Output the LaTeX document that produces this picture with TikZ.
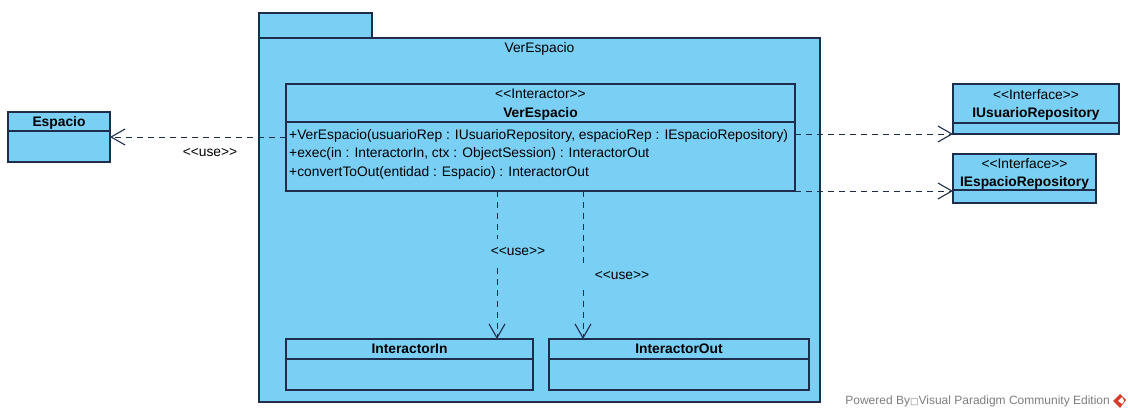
\documentclass[tikz,border=0pt]{standalone}
\usepackage{fontspec}
\setmainfont{Liberation Sans}[Ligatures=TeXOff]
\newfontfamily\symfont{DejaVu Sans}
\usetikzlibrary{arrows.meta,calc}

\definecolor{vpfill}{RGB}{122,207,245}
\definecolor{vpline}{RGB}{30,45,75}
\definecolor{vpgray}{RGB}{125,125,125}
\definecolor{vpred}{RGB}{215,60,40}

\tikzset{
  uml/.style={font=\fontsize{13.8}{16}\selectfont},
  clsbox/.style={draw=vpline, fill=vpfill, line width=1.2pt, anchor=north west,
                 inner sep=0pt, outer sep=0pt},
  sepline/.style={draw=vpline, line width=1.2pt},
  lbl/.style={uml, inner sep=0pt, anchor=mid, yshift=-1.5pt},
  bold/.style={lbl, font=\fontsize{13.8}{16}\selectfont\bfseries},
  oper/.style={uml, inner sep=0pt, anchor=mid west, yshift=-1.5pt},
  usedep/.style={draw=vpline, line width=0.9pt, dash pattern=on 6pt off 5pt,
                 -{Straight Barb[length=14pt,width=16pt,line width=1.1pt]}},
  uselbl/.style={uml, anchor=mid, inner xsep=9pt, inner ysep=8pt, yshift=-1.5pt},
}

\begin{document}
\begin{tikzpicture}[x=1pt, y=-1pt]
\useasboundingbox (0,0) rectangle (1128,411);

% package VerEspacio: tab and body
\node[clsbox, minimum width=113, minimum height=25] (tab) at (259,13) {};
\node[clsbox, minimum width=561, minimum height=364] (pkg) at (259,38) {};
\node[lbl] (pkgname) at (539.5,48) {VerEspacio};

% interactor class
\node[clsbox, minimum width=509, minimum height=107] (inter) at (286,84) {};
\draw[sepline] (inter.west |- 0,122) -- (inter.east |- 0,122);
\node[lbl] (interst) at (540.5,94) {<<Interactor>>};
\node[bold] (intername) at (540.5,113) {VerEspacio};
\node[oper] (op1) at (289,135) {+VerEspacio(usuarioRep : IUsuarioRepository, espacioRep : IEspacioRepository)};
\node[oper] (op2) at (289,153) {+exec(in : InteractorIn, ctx : ObjectSession) : InteractorOut};
\node[oper] (op3) at (289,172) {+convertToOut(entidad : Espacio) : InteractorOut};

% InteractorIn / InteractorOut
\node[clsbox, minimum width=247, minimum height=51] (inin) at (286,339) {};
\draw[sepline] (inin.west |- 0,359) -- (inin.east |- 0,359);
\node[bold] (ininname) at (inin.center |- 0,349) {InteractorIn};

\node[clsbox, minimum width=260, minimum height=51] (inout) at (549,339) {};
\draw[sepline] (inout.west |- 0,359) -- (inout.east |- 0,359);
\node[bold] (inoutname) at (inout.center |- 0,349) {InteractorOut};

% Espacio entity
\node[clsbox, minimum width=102, minimum height=50] (esp) at (8,112) {};
\draw[sepline] (esp.west |- 0,131) -- (esp.east |- 0,131);
\node[bold] (espname) at (esp.center |- 0,122) {Espacio};

% repository interfaces
\node[clsbox, minimum width=166, minimum height=50] (iusu) at (953,84) {};
\draw[sepline] (iusu.west |- 0,123) -- (iusu.east |- 0,123);
\node[lbl] (iusust) at (iusu.center |- 0,95) {<<Interface>>};
\node[bold] (iusuname) at (iusu.center |- 0,113) {IUsuarioRepository};

\node[clsbox, minimum width=143, minimum height=49] (iesp) at (953,154) {};
\draw[sepline] (iesp.west |- 0,190) -- (iesp.east |- 0,190);
\node[lbl] (iespst) at (iesp.center |- 0,164) {<<Interface>>};
\node[bold] (iespname) at (iesp.center |- 0,182) {IEspacioRepository};

% dependencies
\draw[usedep] (esp.east -| inter.west) -- (esp.east);
\node[uselbl, fill=white] (use1) at (210,152) {<<use>>};

\draw[usedep] (iusu.south west -| inter.east) -- (iusu.south west);
\draw[usedep] (inter.south east) -- (inter.south east -| iesp.west);

\coordinate (d1) at (497,191);
\coordinate (d2) at (583,191);
\draw[usedep] (d1) -- (d1 |- inin.north);
\node[uselbl, fill=vpfill] (use2) at (518,251) {<<use>>};
\draw[usedep] (d2) -- (d2 |- inout.north);
\node[uselbl, fill=vpfill, inner xsep=12pt] (use3) at (622,275) {<<use>>};

% footer
\node[anchor=mid east, inner sep=0pt, text=vpgray, font=\fontsize{12}{14}\selectfont] (footer) at (1110,402)
  {Powered By{\symfont\fontsize{9}{10}\selectfont □}Visual Paradigm Community Edition};
\fill[vpred] (1113,401) -- (1120,394) -- (1126,400) -- (1120,408) -- cycle;
\fill[white] (1118,401) -- (1122,397) -- (1124,401) -- (1122,404) -- cycle;
\end{tikzpicture}
\end{document}
